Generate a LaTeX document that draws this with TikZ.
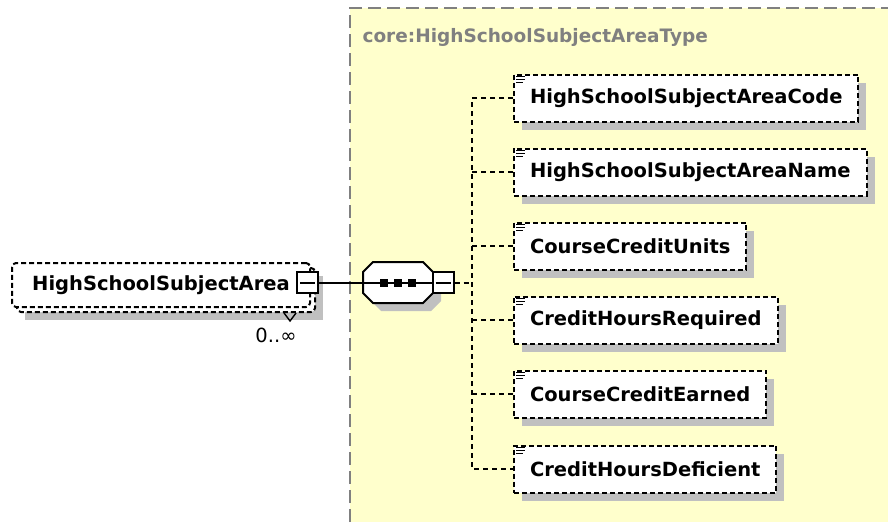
\documentclass[tikz,border=0pt]{standalone}
\usepackage{fontspec}
\setmainfont{DejaVu Sans}
\usepackage{tikz}
\usetikzlibrary{positioning,shadows}

\definecolor{paneyellow}{RGB}{255,255,204}
\definecolor{shadowgray}{RGB}{192,192,192}
\definecolor{titlegray}{RGB}{128,128,128}

\begin{document}
\begin{tikzpicture}[x=1pt,y=-1pt,
  every node/.style={font=\fontsize{19.5}{22}\selectfont\bfseries},
  elembox/.style={draw, fill=white, line width=2pt, dash pattern=on 5pt off 3pt,
    minimum height=47pt, inner xsep=16pt, anchor=west,
    drop shadow={shadow xshift=8pt, shadow yshift=-8pt, fill=shadowgray, opacity=1}},
  mainbox/.style={draw, fill=white, line width=2pt, dash pattern=on 5pt off 3pt,
    rounded corners=4pt, minimum width=298pt, minimum height=44pt},
  minusbox/.style={draw, fill=white, line width=2pt, minimum size=21pt, inner sep=0pt},
  conn/.style={line width=2pt, dash pattern=on 5pt off 4pt},
  dotbox/.style={fill=black, minimum size=8pt, inner sep=0pt}]
\useasboundingbox (0,0) rectangle (888,522);
% type panel
\fill[paneyellow] (350,8) rectangle (888,522);
\draw[titlegray, line width=2pt, dash pattern=on 13pt off 6pt] (350,522) -- (350,8) -- (888,8);
\node[anchor=west, text=titlegray, font=\fontsize{18.5}{22}\selectfont\bfseries] (ttl) at (359,37) {core:HighSchoolSubjectAreaType};

% main element (stacked, 0..unbounded)
\fill[shadowgray] (25,276) rectangle (323,320);
\node[mainbox] (hssaback) at (166,290) {};
\node[mainbox] (hssa) at (161,285) {HighSchoolSubjectArea};
\draw[line width=1.4pt] (284,313) -- (290,321) -- (296,313);
\node[minusbox] (hssaminus) at (307.5,282.5) {};
\draw[line width=2pt] ([xshift=4pt]hssaminus.west) -- ([xshift=-4pt]hssaminus.east);
\node[font=\fontsize{19.5}{22}\selectfont] (occ) at (276,335) {0..\symbol{"221E}};

% sequence compositor
\fill[shadowgray] (381,270) -- (431,270) -- (441,280) -- (441,301) -- (431,311) -- (381,311) -- (371,301) -- (371,280) -- cycle;
\draw[fill=white, line width=2pt] (373,262) -- (423,262) -- (433,272) -- (433,293) -- (423,303) -- (373,303) -- (363,293) -- (363,272) -- cycle;
\coordinate (seq) at (398,282.5);
\node[minusbox] (seqminus) at (443,282.5) {};
\draw[line width=2pt] ([xshift=4pt]seqminus.west) -- ([xshift=-4pt]seqminus.east);
\draw[line width=2pt] (hssaminus.east) -- (seqminus.west);
\node[dotbox] (d1) at (383.5,283) {};
\node[dotbox] (d2) at (397.5,283) {};
\node[dotbox] (d3) at (411.5,283) {};

% child elements
\node[elembox] (code) at (513,98) {HighSchoolSubjectAreaCode};
\node[elembox] (name) at (513,172) {HighSchoolSubjectAreaName};
\node[elembox] (units) at (513,246) {CourseCreditUnits};
\node[elembox] (hreq) at (513,320) {CreditHoursRequired};
\node[elembox] (earned) at (513,394) {CourseCreditEarned};
\node[elembox] (hdef) at (513,469) {CreditHoursDeficient};
\foreach \n in {code,name,units,hreq,earned,hdef} {
  \draw[line width=1.4pt] ([xshift=3pt,yshift=-3pt]\n.north west) -- ++(9,0)
    ([xshift=3pt,yshift=-6pt]\n.north west) -- ++(9,0)
    ([xshift=3pt,yshift=-9pt]\n.north west) -- ++(7,0);
}

% connectors
\coordinate (spine) at (472,282.5);
\draw[conn] (seqminus.east) -- (spine);
\draw[conn] (code.west) -| (spine) |- (hdef.west);
\foreach \n in {name,units,hreq,earned} {
  \draw[conn] (spine |- \n.west) -- (\n.west);
}
\end{tikzpicture}
\end{document}
